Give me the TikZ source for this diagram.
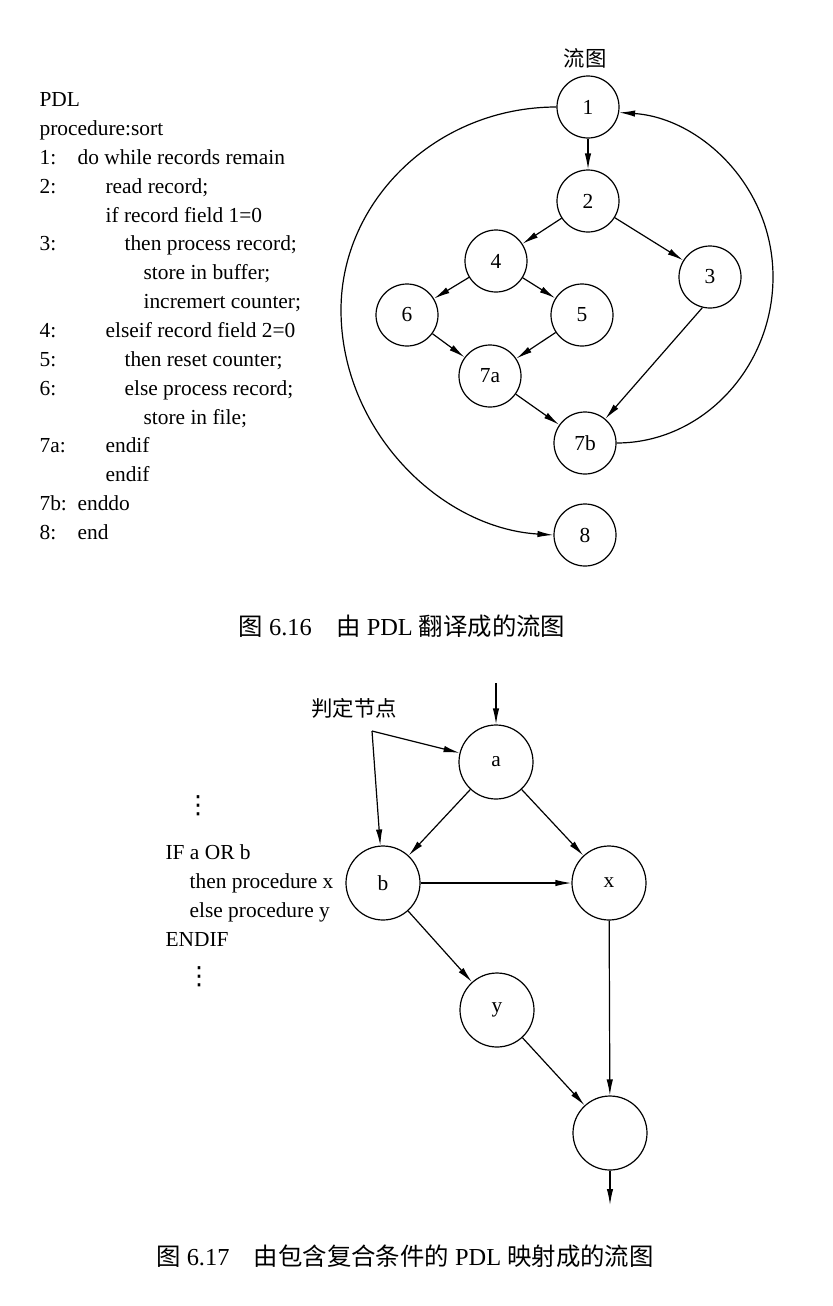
\documentclass[tikz,border=0pt]{standalone}
\usepackage{fontspec}
\usepackage{tikz}
\usetikzlibrary{arrows.meta}
\setmainfont{Liberation Serif}
\newfontfamily\cjk{Noto Sans CJK SC}
\newfontfamily\symf{DejaVu Sans}
\newcommand{\pdlline}[3]{\makebox[#2][l]{#1}#3}

\begin{document}
\begin{tikzpicture}[x=0.5pt, y=-0.5pt, line width=0.6pt,
  every node/.style={font=\fontsize{10.7}{14.43}\selectfont},
  vtx/.style={draw, circle, minimum size=31pt, inner sep=0pt},
  bigvtx/.style={draw, circle, minimum size=37pt, inner sep=0pt},
  flow/.style={-{Latex[length=8pt,width=3.2pt]}},
  figcap/.style={font=\fontsize{12.2}{14}\selectfont},
  vdotlbl/.style={inner sep=0pt, font=\symf\fontsize{12.5}{14}\selectfont}]
\useasboundingbox (0,0) rectangle (833,1306);

\node[anchor=north west, inner sep=0pt, align=left] (pdl) at (39,92) {PDL\\
procedure:sort\\
\pdlline{1:}{19pt}{do while records remain}\\
\pdlline{2:}{33pt}{read record;}\\
\pdlline{}{33pt}{if record field 1=0}\\
\pdlline{3:}{42.5pt}{then process record;}\\
\pdlline{}{52pt}{store in buffer;}\\
\pdlline{}{52pt}{incremert counter;}\\
\pdlline{4:}{33pt}{elseif record field 2=0}\\
\pdlline{5:}{42.5pt}{then reset counter;}\\
\pdlline{6:}{42.5pt}{else process record;}\\
\pdlline{}{52pt}{store in file;}\\
\pdlline{7a:}{33pt}{endif}\\
\pdlline{}{33pt}{endif}\\
\pdlline{7b:}{19pt}{enddo}\\
\pdlline{8:}{19pt}{end}};

\node (flowlbl) at (585,58) {\cjk 流图};
\node[vtx] (n1) at (588,107) {1};
\node[vtx] (n2) at (588,201) {2};
\node[vtx] (n4) at (496,261) {4};
\node[vtx] (n3) at (710,277) {3};
\node[vtx] (n6) at (407,315) {6};
\node[vtx] (n5) at (582,315) {5};
\node[vtx] (n7a) at (490,376) {7a};
\node[vtx] (n7b) at (585,443) {7b};
\node[vtx] (n8) at (585,535) {8};
\draw[flow] (n1) -- (n2);
\draw[flow] (n2) -- (n4);
\draw[flow] (n2) -- (n3);
\draw[flow] (n4) -- (n6);
\draw[flow] (n4) -- (n5);
\draw[flow] (n6) -- (n7a);
\draw[flow] (n5) -- (n7a);
\draw[flow] (n7a) -- (n7b);
\draw[flow] (n3.-104) -- (n7b.50);
\draw[flow] (n1.west) .. controls (437,107) and (341,200) .. (341,310) .. controls (341,430) and (440,528) .. (n8.west);
\draw[flow] (n7b.east) .. controls (703,443) and (773,367) .. (773,277) .. controls (773,186) and (700,118) .. (n1.-10);

\node[figcap] (cap1) at (402,626) {{\cjk 图}~6.16\quad{\cjk 由}~PDL~{\cjk 翻译成的流图}};

\node[vdotlbl] (dots1) at (198,806) {⋮};
\node[anchor=north west, inner sep=0pt, align=left] (ifor) at (165,844) {IF a OR b\\
\hspace*{12pt}then procedure x\\
\hspace*{12pt}else procedure y\\
ENDIF};
\node[vdotlbl] (dots2) at (199,977) {⋮};

\node (dec) at (354,708) {\cjk 判定节点};
\coordinate (fork) at (372,731);
\coordinate (entry) at (496,683);
\node[bigvtx] (na) at (496,762) {a};
\node[bigvtx] (nb) at (383,883) {b};
\node[bigvtx] (nx) at (609,883) {x};
\node[bigvtx] (ny) at (497,1010) {y};
\node[bigvtx] (nend) at (610,1133) {};
\coordinate (exit) at (610,1205);
\draw[flow] (entry) -- (na);
\draw[flow] (fork) -- (na);
\draw[flow] (fork) -- (nb);
\draw[flow] (na) -- (nb);
\draw[flow] (na) -- (nx);
\draw[flow] (nb) -- (nx);
\draw[flow] (nb) -- (ny);
\draw[flow] (ny) -- (nend);
\draw[flow] (nx) -- (nend);
\draw[flow] (nend) -- (exit);

\node[figcap] (cap2) at (405,1256) {{\cjk 图}~6.17\quad{\cjk 由包含复合条件的}~PDL~{\cjk 映射成的流图}};
\end{tikzpicture}
\end{document}
